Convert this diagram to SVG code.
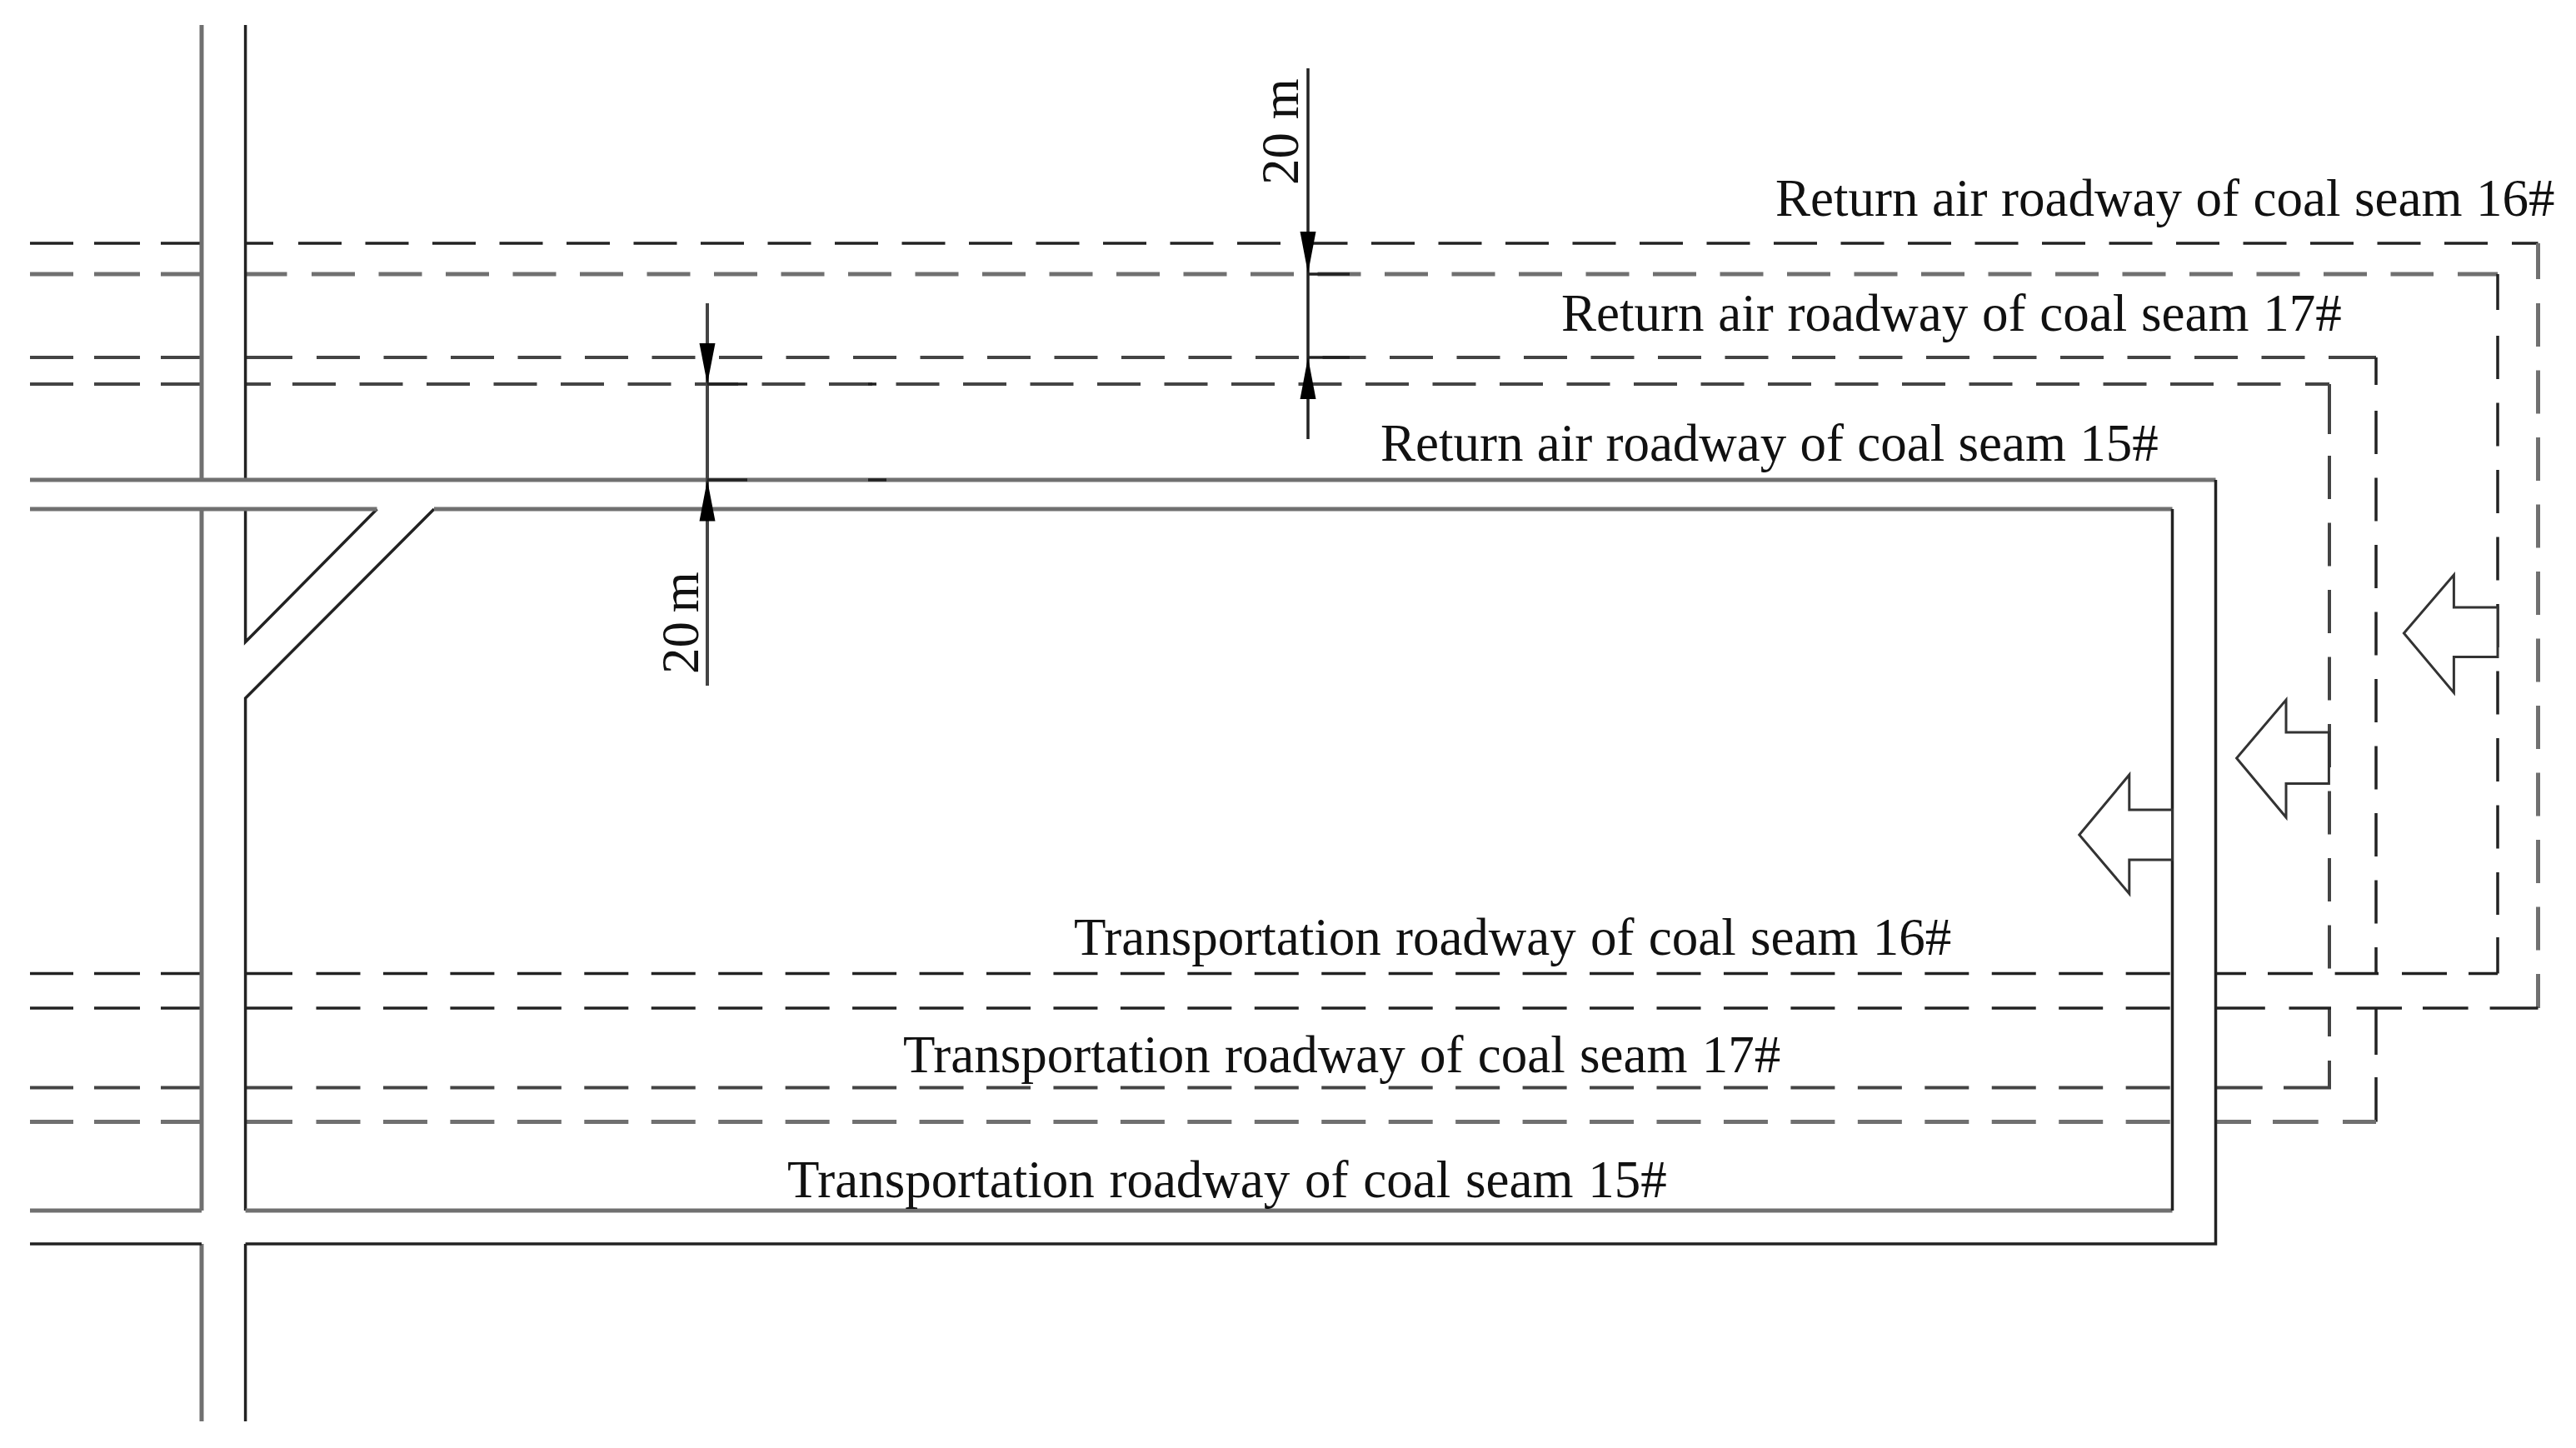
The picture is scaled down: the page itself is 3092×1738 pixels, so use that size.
<svg xmlns="http://www.w3.org/2000/svg" width="3092" height="1738" viewBox="0 0 3092 1738">
<style>
path{fill:none}
.k1{stroke:#222;stroke-width:3.5}
.k2{stroke:#444;stroke-width:4}
.k3{stroke:#707070;stroke-width:5}
.l{stroke-dasharray:52 25 55 25}
.d{stroke-dasharray:52 28.5}
.b{stroke-dasharray:53 27.45}
path.a{fill:#fff;stroke:#333;stroke-width:3}
.t{font-family:"Liberation Serif","Times New Roman",serif;font-size:63px;fill:#111}
path.k{fill:#000;stroke:none}
</style>
<rect width="3092" height="1738" fill="#fff"/>
<g id="seam-16-return">
<path class="k1 l" d="M36 292H242"/><path class="k1" d="M294.6 292H328"/><path class="k1 d" d="M358 292H2986"/><path class="k1" d="M3015 292H3046.5"/>
<path class="k3" d="M3046.5 292V335"/><path class="k3 d" d="M3046.5 364V1210"/>
<path class="k3 l" d="M36 329H242"/><path class="k3" d="M294.6 329H344.5"/><path class="k3 d" d="M374 329H2921"/><path class="k3" d="M2950 329H2998"/>
<path class="k1" d="M2998 329V372"/><path class="k1 d" d="M2998 403V1098"/><path class="k1" d="M2998 1125V1168.5"/>
</g>
<g id="seam-17-return">
<path class="k2 l" d="M36 429H242"/><path class="k2" d="M294.6 429H351"/><path class="k2 d" d="M380 429H2767"/><path class="k2" d="M2795 429H2852"/>
<path class="k1" d="M2852 429V462"/><path class="k1 d" d="M2852 493V1168.5"/><path class="k1" d="M2852 1210V1266M2852 1293V1346.5"/>
<path class="k2 l" d="M36 461H242"/><path class="k2" d="M294.6 461H325"/><path class="k2 d" d="M351 461H2741"/><path class="k2" d="M2767 461H2796"/>
<path class="k2" d="M2796 461V521"/><path class="k2 d" d="M2796 547V1168.5"/><path class="k2" d="M2796 1210V1244M2796 1273V1305.5"/>
</g>
<g id="seam-bottom-dashes">
<path class="k1 l" d="M36 1168.5H242"/><path class="k1" d="M294.6 1168.5H351"/><path class="k1 b" d="M379.5 1168.5H2607"/><path class="k1" d="M2659.5 1168.5H2696M2722 1168.5H2776M2802.6 1168.5H2855M2883 1168.5H2937M2963 1168.5H2998"/>
<path class="k1 l" d="M36 1210H242"/><path class="k1" d="M294.6 1210H351"/><path class="k1 b" d="M379.5 1210H2607"/><path class="k1" d="M2659.5 1210H2718.8M2747.5 1210H2798M2828.6 1210H2883M2908 1210H2962.6M2988.6 1210H3046.5"/>
<path class="k2 l" d="M36 1305.5H242"/><path class="k2" d="M294.6 1305.5H351"/><path class="k2 b" d="M379.5 1305.5H2607"/><path class="k2" d="M2659.5 1305.5H2715.7M2741 1305.5H2798"/>
<path class="k3 l" d="M36 1346.5H242"/><path class="k3" d="M294.6 1346.5H351"/><path class="k3 b" d="M379.5 1346.5H2607"/><path class="k3" d="M2659.5 1346.5H2702M2728 1346.5H2782.7M2812 1346.5H2852"/>
</g>
<g id="seam-15-roadway">
<path class="k3" d="M242 30V576M242 611V1453M242 1493V1706"/>
<path class="k1" d="M294.6 30V576M294.6 611V770.6L452.5 611M294.6 1453V838L521 611M294.6 1493V1706"/>
<path class="k3" d="M36 576H2659.5"/>
<path class="k3" d="M36 611H452.5M521 611H2607.5"/>
<path class="k3" d="M36 1453H242M294.6 1453H2607.5"/>
<path class="k1" d="M36 1493H242M294.6 1493H2659.5V576M2607.5 611V1453"/>
</g>
<g id="airflow-arrows">
<path class="a" d="M2998 729H2945.4V690L2885.4 760L2945.4 831.5V788.5H2998Z"/>
<path class="a" d="M2795.4 879H2744V840L2684.6 910L2744 981V940.6H2795.4Z"/>
<path class="a" d="M2607.5 972H2555.8V930L2495.8 1002L2555.8 1072.6V1032H2607.5Z"/>
</g>
<g id="dimension-lower">
<path class="k2" d="M849 364V823"/><path class="k1" d="M849 461H897M849 576H897M1042 461H1052M1042 576H1064"/>
<path class="k" d="M839.5 412H858.5L849 461ZM839.5 625.5H858.5L849 576Z"/>
<text class="t" transform="translate(838 809) rotate(-90)" word-spacing="-5">20 m</text>
</g>
<g id="dimension-upper">
<path class="k1" d="M1570 82V527M1570 329H1620M1570 429H1620"/>
<path class="k" d="M1560.5 278H1579.5L1570 328ZM1560.5 479H1579.5L1570 429Z"/>
<text class="t" transform="translate(1558 222) rotate(-90)">20 m</text>
</g>
<g id="labels">
<text class="t" x="2131" y="259" word-spacing="0.8">Return air roadway of coal seam 16#</text>
<text class="t" x="1874" y="397" word-spacing="1">Return air roadway of coal seam 17#</text>
<text class="t" x="1657" y="553" word-spacing="0.5">Return air roadway of coal seam 15#</text>
<text class="t" x="1289" y="1145.5" word-spacing="1.5">Transportation roadway of coal seam 16#</text>
<text class="t" x="1084" y="1287" word-spacing="1.5">Transportation roadway of coal seam 17#</text>
<text class="t" x="945" y="1437" word-spacing="2">Transportation roadway of coal seam 15#</text>
</g>
</svg>
